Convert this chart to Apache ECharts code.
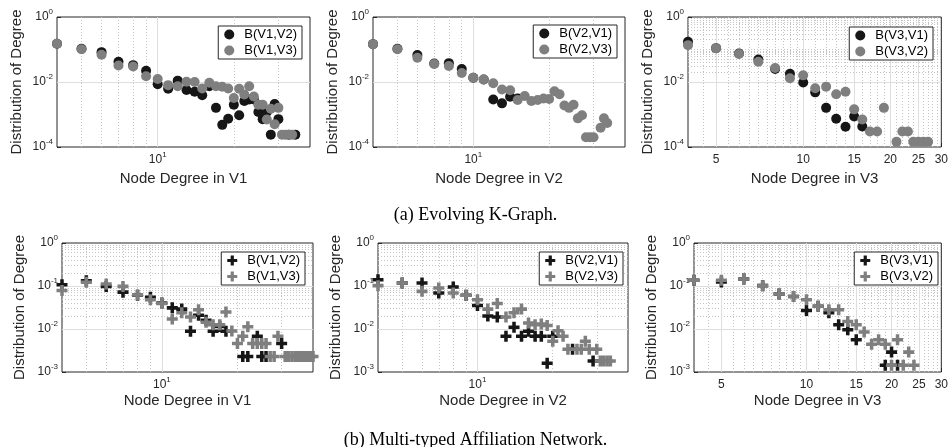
<!DOCTYPE html>
<html>
<head>
<meta charset="utf-8">
<script src="https://cdn.jsdelivr.net/npm/echarts@6/dist/echarts.min.js"></script>
<style>
  html, body { margin: 0; padding: 0; background: #fff; }
  #main { width: 951px; height: 447px; }
</style>
</head>
<body>
<div id="main"></div>
<script>
// (a) Evolving K-Graph: node degree vs distribution of degree
const degA1 = [4, 5, 6, 7, 8, 9, 10, 11, 12, 13, 14, 15, 16, 17, 18, 19, 20, 21, 22, 23, 24, 25, 26, 27, 28, 29, 30, 31, 32, 33, 34, 35];
const a1V1V2 = [0.15, 0.105, 0.083, 0.042, 0.033, 0.022, 0.0085, 0.0062, 0.011, 0.0057, 0.005, 0.0039, 0.0074, 0.0016, 0.00048, 0.00074, 0.002, 0.00095, 0.0026, 0.0029, 0.0029, 0.0012, 0.00072, 0.0012, 0.00024, 0.0021, 0.00072, null, null, 0.00024, null, 0.00024];
const a1V1V3 = [0.15, 0.102, 0.069, 0.032, 0.030, 0.015, 0.0123, 0.0080, 0.0074, 0.0102, 0.0100, 0.0063, 0.0095, 0.0074, 0.0071, 0.0063, 0.0032, 0.0062, 0.0041, 0.0074, 0.0036, 0.0020, 0.0020, 0.0007, 0.0015, 0.0005, 0.0016, 0.00024, 0.00024, 0.00024, 0.00024, null];

const degA2 = [4, 5, 6, 7, 8, 9, 10, 11, 12, 13, 14, 15, 16, 17, 18, 19, 20, 21, 22, 23, 24, 25, 26, 27, 28, 29, 30, 31, 32, 33, 34];
const a2V2V1 = [0.146, 0.105, 0.068, 0.037, 0.038, 0.025, 0.0135, 0.012, 0.0029, 0.0022, 0.0035, 0.0031, null, null, null, null, null, null, null, null, null, null, null, null, null, null, null, null, null, null, null];
const a2V2V3 = [0.146, 0.102, 0.056, 0.036, 0.031, 0.019, 0.0135, 0.012, 0.0091, 0.0059, 0.0056, 0.0028, 0.0037, 0.0026, 0.0028, 0.0031, 0.0030, 0.0052, 0.0042, 0.0019, 0.0016, 0.0020, 0.00076, 0.00095, 0.0002, 0.0002, 0.0002, null, 0.00039, 0.00076, 0.00055];

const degA3 = [4, 5, 6, 7, 8, 9, 10, 11, 12, 13, 14, 15, 16, 17, 18, 19, 20, 21, 22, 23, 24, 25, 26, 27];
const a3V3V1 = [0.173, 0.11, 0.075, 0.049, 0.025, 0.018, 0.0096, 0.0048, 0.0016, 0.00074, 0.00042, 0.00087, 0.00043, null, null, null, null, null, null, null, null, null, null, null];
const a3V3V2 = [0.136, 0.11, 0.073, 0.042, 0.027, 0.013, 0.016, 0.0064, 0.0072, 0.0042, 0.005, 0.00144, 0.0007, 0.0003, 0.0003, 0.0016, null, 0.000144, 0.0003, 0.0003, 0.000144, 0.000144, 0.000144, 0.000144];

// (b) Multi-typed Affiliation Network
const degB1 = [4, 5, 6, 7, 8, 9, 10, 11, 12, 13, 14, 15, 16, 17, 18, 19, 20, 21, 22, 23, 24, 25, 26, 27, 28, 29, 30, 31, 32, 33, 34, 35, 36, 37, 38, 39, 40];
const b1V1V2 = [0.107, 0.133, 0.098, 0.072, 0.061, 0.055, 0.040, 0.031, 0.029, 0.0089, 0.021, 0.016, 0.0089, 0.0115, 0.0089, null, null, 0.0023, 0.0023, null, 0.0068, 0.0023, 0.0023, null, null, null, 0.0046, null, null, null, null, 0.0023, 0.0023, null, null, null, null];
const b1V1V3 = [0.079, 0.122, 0.111, 0.098, 0.062, 0.048, 0.039, 0.017, 0.024, 0.019, 0.028, 0.0144, 0.0125, 0.0125, 0.025, 0.009, 0.0046, 0.0068, 0.0113, 0.0046, 0.0046, 0.0046, 0.0046, 0.0023, 0.0023, 0.0068, null, 0.0023, 0.0023, 0.0023, 0.0023, 0.0023, 0.0023, 0.0023, 0.0023, 0.0023, 0.0023];

const degB2 = [4, 5, 6, 7, 8, 9, 10, 11, 12, 13, 14, 15, 16, 17, 18, 19, 20, 21, 22, 23, 24, 25, 26, 27, 28, 29, 30, 31, 32, 33, 34];
const b2V2V1 = [0.14, 0.117, 0.117, 0.069, 0.095, 0.061, 0.035, 0.020, 0.019, 0.0068, 0.011, 0.0068, 0.0089, 0.0068, 0.0068, 0.0016, 0.0068, null, null, null, 0.0034, null, null, null, null, 0.0018, null, null, null, null, null];
const b2V2V3 = [0.102, 0.117, 0.075, 0.09, 0.069, 0.061, 0.048, 0.029, 0.039, 0.019, 0.024, 0.029, 0.0138, 0.0125, 0.013, 0.012, 0.0052, 0.0091, 0.0068, 0.0034, null, 0.0034, 0.0034, 0.0052, 0.0034, null, 0.0034, 0.0018, 0.0018, 0.0018, 0.0018];

const degB3 = [4, 5, 6, 7, 8, 9, 10, 11, 12, 13, 14, 15, 16, 17, 18, 19, 20, 21, 22, 23, 24];
const b3V3V1 = [0.136, 0.124, 0.146, 0.102, 0.065, 0.057, 0.027, 0.034, 0.024, 0.0126, 0.0096, 0.0056, null, null, null, 0.00144, 0.0029, 0.00144, null, null, null];
const b3V3V2 = [0.136, 0.136, 0.146, 0.102, 0.065, 0.057, 0.048, 0.034, 0.028, 0.028, 0.015, 0.0126, 0.0085, 0.0044, 0.0056, 0.0044, 0.00144, 0.0056, 0.00144, 0.0029, 0.00144];

// tick labels / grid lines
const xTicksWide = [10];
const xTicksNarrow = [5, 10, 15, 20, 25, 30];
const yTicksTop = [0.0001, 0.01, 1];
const yTicksBottom = [0.001, 0.01, 0.1, 1];
const xMinorWide = [5, 6, 7, 8, 9, 20, 30];
const xMinorNarrow = [4.5, 5.5, 6, 6.5, 7, 7.5, 8, 8.5, 9, 9.5, 11, 12, 13, 14, 16, 17, 18, 19, 21, 22, 23, 24, 26, 27, 28, 29];
const yMinorDecades = [0.0001, 0.001, 0.01, 0.1];
const yMinorSteps = [2, 3, 4, 5, 6, 7, 8, 9];

const BLACK = '#161616';
const GRAY = '#7f7f7f';
const PLUS = 'path://M3.4,0H6.6V3.4H10V6.6H6.6V10H3.4V6.6H0V3.4H3.4Z';
const FONT = 'Liberation Sans, Arial, sans-serif';

var myChart = echarts.init(document.getElementById('main'));

// panel layout
const panels = [
  { left: 57, top: 17, width: 253, height: 130, xmax: 40, ymin: 1e-4, xName: 'Node Degree in V1', deg: degA1, s: [['B(V1,V2)', a1V1V2], ['B(V1,V3)', a1V1V3]], mark: 'circle', legRight: 649, legTop: 26, narrow: false, dense: false },
  { left: 373, top: 17, width: 252, height: 130, xmax: 40, ymin: 1e-4, xName: 'Node Degree in V2', deg: degA2, s: [['B(V2,V1)', a2V2V1], ['B(V2,V3)', a2V2V3]], mark: 'circle', legRight: 334, legTop: 25, narrow: false, dense: false },
  { left: 688, top: 17, width: 254, height: 130, xmax: 30, ymin: 1e-4, xName: 'Node Degree in V3', deg: degA3, s: [['B(V3,V1)', a3V3V1], ['B(V3,V2)', a3V3V2]], mark: 'circle', legRight: 18, legTop: 27, narrow: true, dense: true },
  { left: 62, top: 243, width: 251, height: 129, xmax: 40, ymin: 1e-3, xName: 'Node Degree in V1', deg: degB1, s: [['B(V1,V2)', b1V1V2], ['B(V1,V3)', b1V1V3]], mark: PLUS, legRight: 646, legTop: 252, narrow: false, dense: true },
  { left: 378, top: 243, width: 250, height: 129, xmax: 40, ymin: 1e-3, xName: 'Node Degree in V2', deg: degB2, s: [['B(V2,V1)', b2V2V1], ['B(V2,V3)', b2V2V3]], mark: PLUS, legRight: 328, legTop: 252, narrow: false, dense: true },
  { left: 694, top: 243, width: 253, height: 129, xmax: 30, ymin: 1e-3, xName: 'Node Degree in V3', deg: degB3, s: [['B(V3,V1)', b3V3V1], ['B(V3,V2)', b3V3V2]], mark: PLUS, legRight: 13, legTop: 252, narrow: true, dense: true }
];

function powLabel(v) {
  const e = Math.round(Math.log10(v));
  return '{b|10}{s|' + e + '}';
}
const powRich = {
  b: { fontSize: 12, fontFamily: FONT, color: '#262626', lineHeight: 18 },
  s: { fontSize: 8, fontFamily: FONT, color: '#262626', lineHeight: 6, verticalAlign: 'top' }
};

const grids = [], xAxes = [], yAxes = [], series = [], legends = [];

panels.forEach((p, i) => {
  grids.push({ left: p.left, top: p.top, width: p.width, height: p.height, show: true, borderColor: '#262626', borderWidth: 1, backgroundColor: '#fff' });

  xAxes.push({
    type: 'log', gridIndex: i, min: 4, max: p.xmax, logBase: 10,
    name: p.xName, nameLocation: 'middle', nameGap: i < 3 ? 24 : 21,
    nameTextStyle: { fontSize: 15, fontFamily: FONT, color: '#262626' },
    axisLine: { show: false },
    axisTick: { inside: true, length: 4, lineStyle: { color: '#262626' }, customValues: p.narrow ? xTicksNarrow : xTicksWide },
    axisLabel: {
      customValues: p.narrow ? xTicksNarrow : xTicksWide, margin: 4,
      formatter: p.narrow ? (v => '{b|' + Math.round(v) + '}') : powLabel, rich: powRich
    },
    splitLine: { show: false }, minorTick: { show: false }
  });

  yAxes.push({
    type: 'log', gridIndex: i, min: p.ymin, max: 1, logBase: 10,
    name: 'Distribution of Degree', nameLocation: 'middle', nameGap: i < 3 ? 33 : 35,
    nameTextStyle: { fontSize: 15, fontFamily: FONT, color: '#262626' },
    axisLine: { show: false },
    axisTick: { inside: true, length: 4, lineStyle: { color: '#262626' }, customValues: i < 3 ? yTicksTop : yTicksBottom },
    axisLabel: { customValues: i < 3 ? yTicksTop : yTicksBottom, margin: 4, formatter: powLabel, rich: powRich },
    splitLine: { show: false }, minorTick: { show: false }
  });

  // grid lines drawn through the axes as mark lines
  const minorLines = (p.narrow ? xMinorNarrow : xMinorWide).map(v => ({ xAxis: v }));
  const majorLines = (p.narrow ? [5, 10, 15, 20, 25] : [10]).map(v => ({ xAxis: v }));
  if (p.dense) {
    yMinorDecades.forEach(d => {
      if (d < p.ymin) return;
      yMinorSteps.forEach(k => minorLines.push({ yAxis: d * k }));
    });
    if (i < 3) { minorLines.push({ yAxis: 0.001 }); minorLines.push({ yAxis: 0.1 }); }
  }
  (i < 3 ? [0.01] : [0.01, 0.1]).forEach(v => majorLines.push({ yAxis: v }));

  series.push({
    type: 'scatter', xAxisIndex: i, yAxisIndex: i, data: [], silent: true, z: 1,
    markLine: { z: 1, silent: true, symbol: 'none', animation: false, label: { show: false },
      lineStyle: { color: '#c4c4c4', width: 1, type: [1, 2] }, emphasis: { disabled: true }, data: minorLines }
  });
  series.push({
    type: 'scatter', xAxisIndex: i, yAxisIndex: i, data: [], silent: true, z: 1,
    markLine: { z: 1, silent: true, symbol: 'none', animation: false, label: { show: false },
      lineStyle: { color: '#dedede', width: 1, type: 'solid' }, emphasis: { disabled: true }, data: majorLines }
  });

  p.s.forEach((s, j) => {
    const pts = [];
    p.deg.forEach((d, k) => { if (s[1][k] != null) pts.push([d, s[1][k]]); });
    series.push({
      type: 'scatter', name: s[0], xAxisIndex: i, yAxisIndex: i, z: 3 + j,
      symbol: p.mark, symbolSize: p.mark === 'circle' ? 10 : 11,
      itemStyle: { color: j === 0 ? BLACK : GRAY, opacity: 1 },
      data: pts
    });
  });

  legends.push({
    orient: 'vertical', right: p.legRight, top: p.legTop, z: 10,
    selectedMode: false, backgroundColor: '#fff', borderColor: '#262626', borderWidth: 1,
    padding: [2, 5, 2, 6], itemGap: 3, itemWidth: 20, itemHeight: 10,
    textStyle: { fontSize: 13, fontFamily: FONT, color: '#000' },
    data: p.s.map((s, j) => ({ name: s[0], icon: p.mark, itemStyle: { color: j === 0 ? BLACK : GRAY } }))
  });
});

var option = {
  animation: false,
  backgroundColor: '#fff',
  title: [
    { text: '(a) Evolving K-Graph.', left: 'center', top: 201, textStyle: { fontSize: 18, fontWeight: 'normal', fontFamily: 'Liberation Serif, Times New Roman, serif', color: '#000' } },
    { text: '(b) Multi-typed Affiliation Network.', left: 'center', top: 426, textStyle: { fontSize: 18, fontWeight: 'normal', fontFamily: 'Liberation Serif, Times New Roman, serif', color: '#000' } }
  ],
  grid: grids,
  xAxis: xAxes,
  yAxis: yAxes,
  legend: legends,
  series: series
};
myChart.setOption(option);
</script>
</body>
</html>
